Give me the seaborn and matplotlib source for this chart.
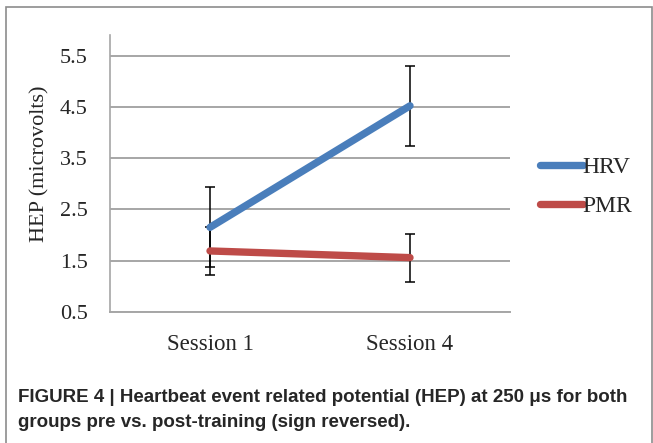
import pandas as pd
import matplotlib.pyplot as plt
import matplotlib.patches as mpatches
import seaborn as sns

sns.set_style("white")
plt.rcParams['font.family'] = ['Liberation Serif', 'DejaVu Serif']

sessions = ["Session 1", "Session 4"]
groups = ["HRV", "PMR"]
hrv_mean = [2.15, 4.52]
hrv_err = [0.78, 0.78]
pmr_mean = [1.69, 1.56]
pmr_err = [0.46, 0.47]
yticks = [0.5, 1.5, 2.5, 3.5, 4.5, 5.5]
colors = {"HRV": "#4a7ebb", "PMR": "#be4b48"}

df = pd.DataFrame({
    "Session": sessions * 2,
    "HEP": hrv_mean + pmr_mean,
    "Err": hrv_err + pmr_err,
    "Group": [groups[0]] * 2 + [groups[1]] * 2,
})

fig = plt.figure(figsize=(6.53, 4.43), dpi=100)
ax = fig.add_axes([110/653, 1-312/443, 400/653, (312-35)/443])

# error bars first, lines on top
for g in groups:
    sub = df[df["Group"] == g]
    ax.errorbar(sub["Session"], sub["HEP"], yerr=sub["Err"], fmt="none",
                ecolor="black", elinewidth=1.1, capsize=3.3, capthick=1.1, zorder=2)

sns.lineplot(data=df, x="Session", y="HEP", hue="Group", palette=colors,
             linewidth=5.3, ax=ax, legend=False, zorder=3,
             solid_capstyle="round")

ax.set_xlim(-0.5, 1.5)
ax.set_ylim(0.5, 5.9)
ax.set_yticks(yticks)
ax.set_yticklabels([f"{v:.1f}" for v in yticks], fontsize=16)
ax.set_xticks([0, 1])
ax.set_xticklabels(sessions, fontsize=16.5)
ax.set_xlabel("")
ax.set_ylabel("HEP (microvolts)", fontsize=16)
ax.yaxis.set_label_coords(-0.152, 0.534)
ax.yaxis.grid(True, color="#a6a6a6", linewidth=1.4)
ax.set_axisbelow(True)
for s in ["top", "right"]:
    ax.spines[s].set_visible(False)
ax.spines["left"].set_color("#a6a6a6")
ax.spines["bottom"].set_color("#a6a6a6")
ax.spines["left"].set_linewidth(1.2)
ax.spines["bottom"].set_linewidth(1.4)
ax.tick_params(axis="y", length=5, width=1.2, color="#a6a6a6", pad=11)
ax.tick_params(axis="x", length=0, pad=16)
ax.set_xticks([-0.5, 0.5, 1.5], minor=True)
ax.tick_params(axis="x", which="minor", length=5, color="#a6a6a6", direction="out")

handles = [plt.Line2D([], [], color=colors[g], lw=5.3, solid_capstyle="round") for g in groups]
fig.legend(handles, groups, loc="center left", bbox_to_anchor=(519/653, 1-187/443),
           frameon=False, fontsize=17, handlelength=1.8, handletextpad=0.0,
           labelspacing=0.75)

# outer frame
fig.add_artist(mpatches.Rectangle((5.5/653, -0.01), 646/653, 1-7/443+0.01,
                                  transform=fig.transFigure, fill=False,
                                  edgecolor="#8c8c8c", linewidth=1.2))

cap = ("FIGURE 4 | Heartbeat event related potential (HEP) at 250 \u03bcs for both\n"
       "groups pre vs. post-training (sign reversed).")
fig.text(18/653, 1-389/443, cap, ha="left", va="top", fontsize=13.5,
         fontweight="bold", family=['Liberation Sans Narrow', 'Liberation Sans', 'DejaVu Sans'],
         linespacing=1.6)

fig.savefig("out.png", dpi=100)
